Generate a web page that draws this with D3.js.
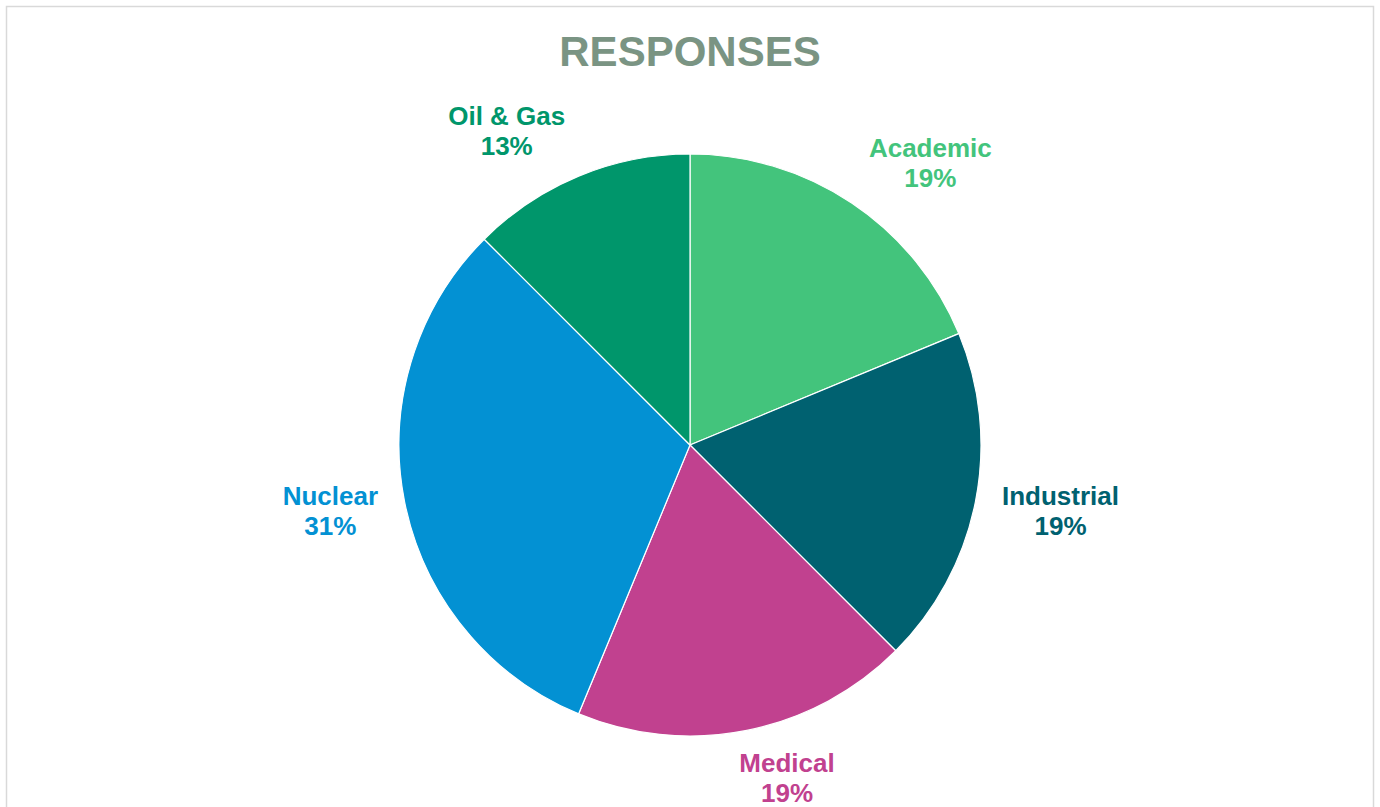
<!DOCTYPE html>
<html>

<head>
    <script src="https://d3js.org/d3.v7.min.js"></script>
    <style>
        body { margin: 0; background: #fff; font-family: "Liberation Sans", Arial, sans-serif; }
    </style>
    <script>
        const categories = ["Academic", "Industrial", "Medical", "Nuclear", "Oil & Gas"]
        const responses = [3, 3, 3, 5, 2]
        const colors = ["#43c47c", "#006170", "#c1418f", "#0391d3", "#00966b"]

        const width = 1380, height = 807
        const cx = 690, cy = 445, radius = 291

        function drawPie() {
            const svg = d3.select("#svgContainer")
            svg.selectAll("*").remove()

            // chart area border
            svg.append("rect")
                .attr("x", 6.5).attr("y", 6.5)
                .attr("width", 1367).attr("height", 820)
                .attr("fill", "none")
                .attr("stroke", "#d9d9d9")
                .attr("stroke-width", 1.5)

            svg.append("text")
                .text("RESPONSES")
                .attr("x", cx).attr("y", 66)
                .attr("text-anchor", "middle")
                .attr("font-size", 42)
                .attr("font-weight", "bold")
                .attr("fill", "#7a9483")

            const total = d3.sum(responses)
            const rows = categories.map((c, i) => ({ name: c, value: responses[i], color: colors[i] }))
            const pie = d3.pie().value(d => d.value).sort(null)
            const arc = d3.arc().innerRadius(0).outerRadius(radius)
            const arcs = pie(rows)

            const g = svg.append("g").attr("transform", `translate(${cx},${cy})`)
            g.selectAll("path")
                .data(arcs)
                .join("path")
                .attr("d", arc)
                .attr("fill", d => d.data.color)
                .attr("stroke", "#fff")
                .attr("stroke-width", 1.2)

            // labels placed outside the slice end, pushed away from the pie by the box size
            const lineH = 30
            const labelR = radius + 22
            arcs.forEach(d => {
                const a = (d.startAngle + d.endAngle) / 2
                const px = labelR * Math.sin(a)
                const py = -labelR * Math.cos(a)
                const t = g.append("text")
                    .attr("text-anchor", "middle")
                    .attr("font-size", 26)
                    .attr("font-weight", "bold")
                    .attr("fill", d.data.color)
                t.append("tspan").attr("x", 0).attr("dy", 0).text(d.data.name)
                t.append("tspan").attr("x", 0).attr("dy", lineH).text(Math.round(d.value / total * 100) + "%")
                const w = t.node().getBBox().width, h = lineH * 2
                const sx = Math.max(-1, Math.min(1, Math.sin(a) * 3.5))
                const lx = px + sx * (w / 2 + 5)
                const ly = py - Math.cos(a) * (h / 2) * 0.88
                t.attr("transform", `translate(${lx},${ly - 6})`)
            })
        }
    </script>
</head>

<body onload="drawPie()">
    <svg id="svgContainer" width="1380" height="807"></svg>
</body>

</html>
